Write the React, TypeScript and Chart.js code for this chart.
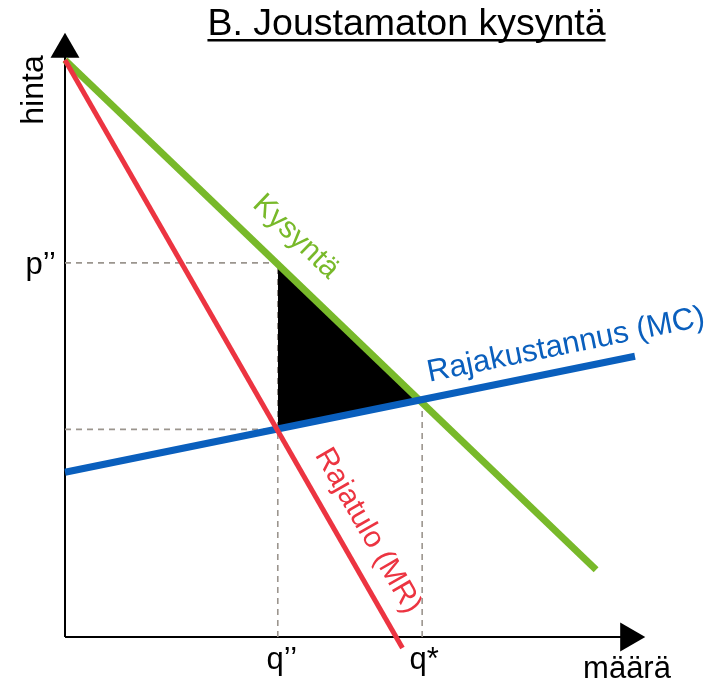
import React, { useEffect, useRef } from 'react';
import { Chart, registerables } from 'chart.js';

Chart.register(...registerables);

// ---- text ----
const TITLE = 'B. Joustamaton kysyntä';
const Y_AXIS_LABEL = 'hinta';
const X_AXIS_LABEL = 'määrä';
const DEMAND_LABEL = 'Kysyntä';
const MR_LABEL = 'Rajatulo (MR)';
const MC_LABEL = 'Rajakustannus (MC)';
const P_TICK = 'p’’';
const Q_TICK = 'q’’';
const QSTAR_TICK = 'q*';

// ---- curves (quantity, price) ----
const demandQ = [0, 91.6];
const demandP = [99.5, 11.6];
const mrQ = [0, 58.2];
const mrP = [99.5, -1.9];
const mcQ = [0, 98.3];
const mcP = [28.4, 48.4];

// ---- key points ----
const qDouble = 36.7;
const pDouble = 64.5;
const mcAtQDouble = 35.8;
const qStar = 61.6;
const pStar = 40.9;

// ---- axes ----
const xAxisEnd = 98.5;
const yAxisEnd = 100.5;
const xArrowAt = 97.2;
const yArrowAt = 101.3;

// ---- label anchors (data units) ----
const demandLabelAt = [39.8, 69.0];
const mcLabelAt = [86.4, 50.3];
const mrLabelAt = [52.2, 18.3];

const GREEN = '#78b92a';
const RED = '#ec3441';
const BLUE = '#0a5fbd';
const DASH = '#9b958e';
const FONT = "'Liberation Sans', Arial, Helvetica, sans-serif";

const pts = (qs: number[], ps: number[]) => qs.map((q, i) => ({ x: q, y: ps[i] }));

const labelPlugin = {
  id: 'econLabels',
  afterDatasetsDraw(chart: any) {
    const ctx: CanvasRenderingContext2D = chart.ctx;
    const xs = chart.scales.x;
    const ys = chart.scales.y;
    const px = (v: number) => xs.getPixelForValue(v);
    const py = (v: number) => ys.getPixelForValue(v);
    const angleOf = (qs: number[], ps: number[]) =>
      Math.atan2(py(ps[1]) - py(ps[0]), px(qs[1]) - px(qs[0]));

    ctx.save();
    // title
    ctx.fillStyle = '#000';
    ctx.font = `37.5px ${FONT}`;
    ctx.textAlign = 'center';
    ctx.textBaseline = 'alphabetic';
    const tx = 406.5;
    const tyBase = 35;
    ctx.fillText(TITLE, tx, tyBase);
    const tw = ctx.measureText(TITLE).width;
    ctx.fillRect(tx - tw / 2, tyBase + 4, tw, 2.5);

    // axis labels
    ctx.font = `32px ${FONT}`;
    ctx.save();
    ctx.translate(43, 90);
    ctx.rotate(-Math.PI / 2);
    ctx.textAlign = 'center';
    ctx.textBaseline = 'alphabetic';
    ctx.fillText(Y_AXIS_LABEL, 0, 0);
    ctx.restore();

    ctx.font = `31px ${FONT}`;
    ctx.textAlign = 'center';
    ctx.fillText(X_AXIS_LABEL, 627, 678);

    // tick-like labels
    ctx.textAlign = 'right';
    ctx.fillText(P_TICK, 56, py(pDouble) + 11);
    ctx.textAlign = 'center';
    ctx.fillText(Q_TICK, px(qDouble) + 4, 669);
    ctx.fillText(QSTAR_TICK, px(qStar) + 2, 669);

    // curve labels
    const drawRot = (text: string, at: number[], ang: number, color: string, size: number) => {
      ctx.save();
      ctx.translate(px(at[0]), py(at[1]));
      ctx.rotate(ang);
      ctx.fillStyle = color;
      ctx.font = `${size}px ${FONT}`;
      ctx.textAlign = 'center';
      ctx.textBaseline = 'middle';
      ctx.fillText(text, 0, 0);
      ctx.restore();
    };
    drawRot(DEMAND_LABEL, demandLabelAt, angleOf(demandQ, demandP), GREEN, 30);
    drawRot(MC_LABEL, mcLabelAt, angleOf(mcQ, mcP), BLUE, 31);
    drawRot(MR_LABEL, mrLabelAt, angleOf(mrQ, mrP), RED, 30);
    ctx.restore();
  },
};

export default function App() {
  const ref = useRef<HTMLCanvasElement | null>(null);

  useEffect(() => {
    if (!ref.current) return;
    const line = (data: any[], color: string, width: number, extra: any = {}) => ({
      data,
      borderColor: color,
      backgroundColor: color,
      borderWidth: width,
      pointRadius: 0,
      fill: false,
      clip: false,
      tension: 0,
      borderCapStyle: 'butt',
      ...extra,
    });
    const dashed = (data: any[]) => line(data, DASH, 1.6, { borderDash: [6, 5] });

    const datasets: any[] = [
      line(pts(mrQ, mrP), RED, 5),
      line(pts(mcQ, mcP), BLUE, 7),
      line(pts(demandQ, demandP), GREEN, 7),
      // arrow heads
      {
        data: [{ x: 0, y: yArrowAt }],
        showLine: false,
        pointStyle: 'triangle',
        pointRadius: 16.7,
        pointRotation: 0,
        pointBackgroundColor: '#000',
        pointBorderWidth: 0,
        clip: false,
      },
      {
        data: [{ x: xArrowAt, y: 0 }],
        showLine: false,
        pointStyle: 'triangle',
        pointRadius: 16.7,
        pointRotation: 90,
        pointBackgroundColor: '#000',
        pointBorderWidth: 0,
        clip: false,
      },
      // deadweight-loss triangle (top edge filled down to the MC edge)
      line([{ x: qDouble, y: pDouble }, { x: qStar, y: pStar }], '#000', 0, {
        fill: '+1',
        backgroundColor: '#000',
      }),
      line([{ x: qDouble, y: mcAtQDouble }, { x: qStar, y: pStar }], '#000', 0),
      // guides
      dashed([{ x: 0, y: pDouble }, { x: qDouble, y: pDouble }]),
      dashed([{ x: 0, y: mcAtQDouble }, { x: qDouble, y: mcAtQDouble }]),
      dashed([{ x: qDouble, y: 0 }, { x: qDouble, y: pDouble }]),
      dashed([{ x: qStar, y: 0 }, { x: qStar, y: pStar }]),
      // axes
      line([{ x: 0, y: 0 }, { x: 0, y: yAxisEnd }], '#000', 2),
      line([{ x: 0, y: 0 }, { x: xAxisEnd, y: 0 }], '#000', 2),
    ];

    const chart = new Chart(ref.current, {
      type: 'line',
      data: { datasets },
      options: {
        animation: false,
        responsive: false,
        devicePixelRatio: 1,
        events: [],
        layout: { padding: { left: 65, right: 13, top: 28, bottom: 48 } },
        scales: {
          x: { type: 'linear', min: 0, max: 109.4, display: false },
          y: { type: 'linear', min: 0, max: 105, display: false },
        },
        plugins: {
          legend: { display: false },
          tooltip: { enabled: false },
          title: { display: false },
        },
      },
      plugins: [labelPlugin],
    } as any);
    return () => chart.destroy();
  }, []);

  return (
    <div style={{ position: 'absolute', left: 0, top: 0, width: 716, height: 685, background: '#fff' }}>
      <canvas ref={ref} width={716} height={685} style={{ display: 'block' }} />
    </div>
  );
}
